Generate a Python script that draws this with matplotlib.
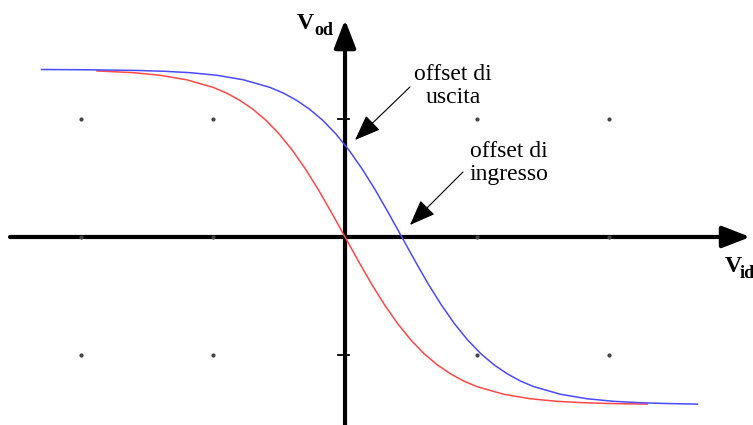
import matplotlib
matplotlib.use("Agg")
import matplotlib.pyplot as plt

# curva senza offset (rossa) e curva con offset (blu), Vod in funzione di Vid
red_x = [-1.88, -1.6, -1.4, -1.2, -1.0, -0.9, -0.8, -0.7, -0.6, -0.5, -0.4,
         -0.3, -0.2, -0.1, 0.0, 0.1, 0.2, 0.3, 0.4, 0.5, 0.6, 0.7, 0.8, 0.9,
         1.0, 1.2, 1.4, 1.6, 1.8, 2.0, 2.29]
red_y = [1.407, 1.392, 1.370, 1.332, 1.268, 1.221, 1.160, 1.084, 0.990,
         0.874, 0.736, 0.576, 0.397, 0.202, 0.0, -0.202, -0.397, -0.576,
         -0.736, -0.874, -0.990, -1.084, -1.160, -1.221, -1.268, -1.332,
         -1.370, -1.392, -1.404, -1.411, -1.416]

blue_x = [-2.30, -1.97, -1.57, -1.37, -1.17, -0.97, -0.77, -0.57, -0.47,
          -0.37, -0.27, -0.17, -0.07, 0.03, 0.13, 0.23, 0.33, 0.43, 0.53,
          0.63, 0.73, 0.83, 0.93, 1.03, 1.13, 1.23, 1.33, 1.43, 1.63, 1.83,
          2.03, 2.23, 2.43, 2.67]
blue_y = [1.419, 1.417, 1.411, 1.404, 1.392, 1.370, 1.332, 1.268, 1.221,
          1.160, 1.084, 0.990, 0.874, 0.736, 0.576, 0.397, 0.202, 0.0,
          -0.202, -0.397, -0.576, -0.736, -0.874, -0.990, -1.084, -1.160,
          -1.221, -1.268, -1.332, -1.370, -1.392, -1.404, -1.411, -1.416]

# punti della griglia e tacche sull'asse verticale
grid_x = [-2, -1, 1, 2]
grid_y = [-1, 0, 1]
tick_y = [-1, 1]

label_uscita = "offset di\nuscita"
label_ingresso = "offset di\ningresso"

serif = ["Liberation Serif", "DejaVu Serif"]

fig = plt.figure(figsize=(7.53, 4.25), dpi=100)
ax = fig.add_axes([0, 0, 1, 1])
ax.set_xlim(-2.614, 3.091)
ax.set_ylim(-1.593, 2.008)
ax.axis("off")

# griglia a puntini
for gx in grid_x:
    for gy in grid_y:
        ax.plot(gx, gy, "o", ms=2, color="#444444", zorder=4)
for ty in tick_y:
    ax.plot([-0.05, 0.03], [ty, ty], color="black", lw=1.3, zorder=4)

# assi con freccia
axis_arrow = dict(arrowstyle="-|>,head_length=0.85,head_width=0.33",
                  lw=3, color="black", mutation_scale=20,
                  shrinkA=0, shrinkB=0)
ax.annotate("", xy=(3.07, 0), xytext=(-2.538, 0), arrowprops=axis_arrow,
            zorder=3)
ax.annotate("", xy=(0, 1.84), xytext=(0, -1.6), arrowprops=axis_arrow,
            zorder=3)

# curve
ax.plot(red_x, red_y, color="#ff4848", lw=1.1, zorder=5)
ax.plot(blue_x, blue_y, color="#4a4aff", lw=1.1, zorder=5)

# etichette degli assi
ax.text(-0.364, 1.763, "V", family=serif, weight="bold", fontsize=17,
        ha="left", va="baseline")
ax.text(-0.235, 1.712, "od", family=serif, weight="bold", fontsize=13,
        ha="left", va="baseline")
ax.text(2.879, -0.297, "V", family=serif, weight="bold", fontsize=17,
        ha="left", va="baseline")
ax.text(2.992, -0.345, "id", family=serif, weight="bold", fontsize=13,
        ha="left", va="baseline")

# annotazioni degli offset
small_arrow = dict(arrowstyle="-|>,head_length=0.9,head_width=0.35",
                   lw=0.8, color="black", mutation_scale=18,
                   shrinkA=0, shrinkB=0)
ax.text(0.818, 1.136, label_uscita, family=serif, fontsize=17,
        ha="center", va="baseline", multialignment="center",
        linespacing=1.1)
ax.annotate("", xy=(0.076, 0.822), xytext=(0.492, 1.271),
            arrowprops=small_arrow)
ax.text(1.239, 0.483, label_ingresso, family=serif, fontsize=17,
        ha="center", va="baseline", multialignment="center",
        linespacing=1.1)
ax.annotate("", xy=(0.492, 0.102), xytext=(0.894, 0.551),
            arrowprops=small_arrow)

fig.savefig("out.png", dpi=100)
